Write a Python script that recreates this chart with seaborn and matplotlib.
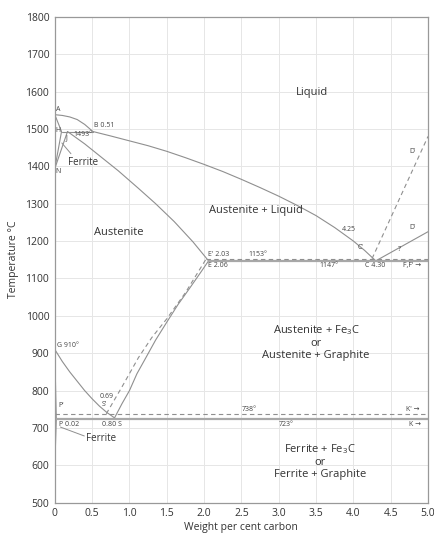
import matplotlib
matplotlib.use('Agg')
import matplotlib.pyplot as plt
import seaborn as sns
import pandas as pd

# phase boundaries, weight per cent carbon vs temperature (deg C)
ab_x = [0.0, 0.1, 0.2, 0.3, 0.4, 0.51]
ab_t = [1538, 1536, 1532, 1525, 1512, 1493]
bc_x = [0.51, 0.75, 1.0, 1.25, 1.5, 1.75, 2.0, 2.25, 2.5, 2.75, 3.0, 3.25, 3.5, 3.75, 4.0, 4.15, 4.30]
bc_t = [1493, 1481, 1468, 1455, 1440, 1423, 1405, 1386, 1365, 1343, 1320, 1295, 1268, 1236, 1200, 1175, 1147]
ah_x = [0.0, 0.09]
ah_t = [1538, 1493]
hb_x = [0.09, 0.51]
hb_t = [1493, 1493]
hn_x = [0.09, 0.0]
hn_t = [1493, 1394]
jn_x = [0.17, 0.0]
jn_t = [1493, 1394]
je_x = [0.17, 0.4, 0.6, 0.85, 1.12, 1.35, 1.6, 1.85, 2.06]
je_t = [1493, 1460, 1428, 1388, 1341, 1300, 1252, 1198, 1147]
eut_x = [2.06, 5.0]
eut_t = [1147, 1147]
eut_g_x = [2.03, 5.0]
eut_g_t = [1153, 1153]
cd_x = [4.30, 5.0]
cd_t = [1147, 1225]
cd_g_x = [4.25, 5.0]
cd_g_t = [1153, 1480]
gs_x = [0.0, 0.1, 0.2, 0.3, 0.4, 0.5, 0.6, 0.7, 0.80]
gs_t = [910, 878, 850, 825, 800, 778, 758, 741, 727]
se_x = [0.80, 0.9, 1.0, 1.1, 1.22, 1.35, 1.5, 1.65, 1.8, 1.95, 2.06]
se_t = [727, 765, 800, 845, 888, 935, 983, 1030, 1072, 1115, 1147]
se_g_x = [0.69, 0.9, 1.12, 1.3, 1.5, 1.75, 2.03]
se_g_t = [738, 810, 888, 942, 992, 1062, 1153]
pk_x = [0.02, 5.0]
pk_t = [723, 723]
pk_g_x = [0.0, 5.0]
pk_g_t = [738, 738]
gp_x = [0.0, 0.02, 0.0]
gp_t = [900, 723, 600]

solid_lines = [(ab_x, ab_t), (bc_x, bc_t), (ah_x, ah_t), (hb_x, hb_t), (hn_x, hn_t),
               (jn_x, jn_t), (je_x, je_t), (cd_x, cd_t), (gs_x, gs_t),
               (se_x, se_t), (gp_x, gp_t)]
iso_lines = [(eut_x, eut_t), (pk_x, pk_t)]
dashed_lines = [(eut_g_x, eut_g_t), (cd_g_x, cd_g_t), (se_g_x, se_g_t), (pk_g_x, pk_g_t)]

x_ticks = [0, 0.5, 1.0, 1.5, 2.0, 2.5, 3.0, 3.5, 4.0, 4.5, 5.0]
x_tick_labels = ['0', '0.5', '1.0', '1.5', '2.0', '2.5', '3.0', '3.5', '4.0', '4.5', '5.0']
y_ticks = list(range(500, 1900, 100))

region_labels = [
    ('Liquid', 3.45, 1597, 8),
    ('Austenite + Liquid', 2.7, 1281, 8),
    ('Austenite', 0.85, 1222, 8),
    ('Ferrite', 0.38, 1410, 7),
    ('Austenite + Fe$_3$C\nor\nAustenite + Graphite', 3.5, 930, 8),
    ('Ferrite', 0.62, 671, 7),
    ('Ferrite + Fe$_3$C\nor\nFerrite + Graphite', 3.55, 612, 8),
]
point_labels = [
    ('A', 0.02, 1552),
    ('B 0.51', 0.52, 1510),
    ('H', 0.01, 1496),
    ('1493°', 0.25, 1486),
    ('J', 0.15, 1477),
    ('N', 0.01, 1385),
    ('E\' 2.03', 2.05, 1164),
    ('E 2.06', 2.05, 1134),
    ('1153°', 2.6, 1164),
    ('1147°', 3.55, 1134),
    ('4.25', 3.85, 1230),
    ('C\'', 4.05, 1183),
    ('C 4.30', 4.15, 1134),
    ('F,F\' →', 4.66, 1134),
    ('G 910°', 0.03, 920),
    ('0.69', 0.6, 783),
    ('S\'', 0.63, 762),
    ('P\'', 0.05, 759),
    ('P 0.02', 0.06, 708),
    ('0.80 S', 0.63, 708),
    ('738°', 2.5, 749),
    ('723°', 3.0, 709),
    ('K\' →', 4.7, 749),
    ('K →', 4.74, 709),
    ('D\'', 4.75, 1440),
    ('D\'', 4.75, 1235),
    ('?', 4.6, 1178),
]

sns.set_theme(style='whitegrid')
plt.rcParams['font.family'] = ['Open Sans', 'DejaVu Sans']
plt.rcParams['mathtext.default'] = 'regular'

fig = plt.figure(figsize=(4.35, 5.4), dpi=100)
ax = fig.add_axes([0.126, 0.069, 0.858, 0.9])

line_col = '#8f8f8f'
for xs, ts in solid_lines:
    df = pd.DataFrame({'x': xs, 't': ts})
    sns.lineplot(data=df, x='x', y='t', sort=False, estimator=None, color=line_col, lw=0.8, ax=ax)
for xs, ts in iso_lines:
    df = pd.DataFrame({'x': xs, 't': ts})
    sns.lineplot(data=df, x='x', y='t', sort=False, estimator=None, color='#a8a8a8', lw=1.6, ax=ax)
for xs, ts in dashed_lines:
    df = pd.DataFrame({'x': xs, 't': ts})
    sns.lineplot(data=df, x='x', y='t', sort=False, estimator=None, color=line_col, lw=0.8,
                 ax=ax, linestyle=(0, (4, 3)))

# leader lines to the ferrite labels
ax.annotate('', xy=(0.07, 1468), xytext=(0.24, 1428),
            arrowprops=dict(arrowstyle='-', color=line_col, lw=0.7))
ax.annotate('', xy=(0.04, 705), xytext=(0.43, 676),
            arrowprops=dict(arrowstyle='-', color=line_col, lw=0.7))

for txt, x, t, fs in region_labels:
    ax.text(x, t, txt, ha='center', va='center', fontsize=fs, color='#333333', linespacing=1.1)
for txt, x, t in point_labels:
    ax.text(x, t, txt, ha='left', va='center', fontsize=5, color='#444444')

ax.set_xlim(0, 5.0)
ax.set_ylim(500, 1800)
ax.set_xticks(x_ticks)
ax.set_xticklabels(x_tick_labels)
ax.set_yticks(y_ticks)
ax.tick_params(labelsize=7.5, colors='#333333', length=0, pad=4)
ax.grid(color='#e6e6e6', lw=0.7)
for s in ax.spines.values():
    s.set_color('#999999')
    s.set_linewidth(0.9)
ax.set_xlabel('Weight per cent carbon', fontsize=7.5, color='#333333', labelpad=2)
ax.set_ylabel('Temperature °C', fontsize=7.5, color='#333333', labelpad=5)

fig.savefig('out.png', dpi=100)
